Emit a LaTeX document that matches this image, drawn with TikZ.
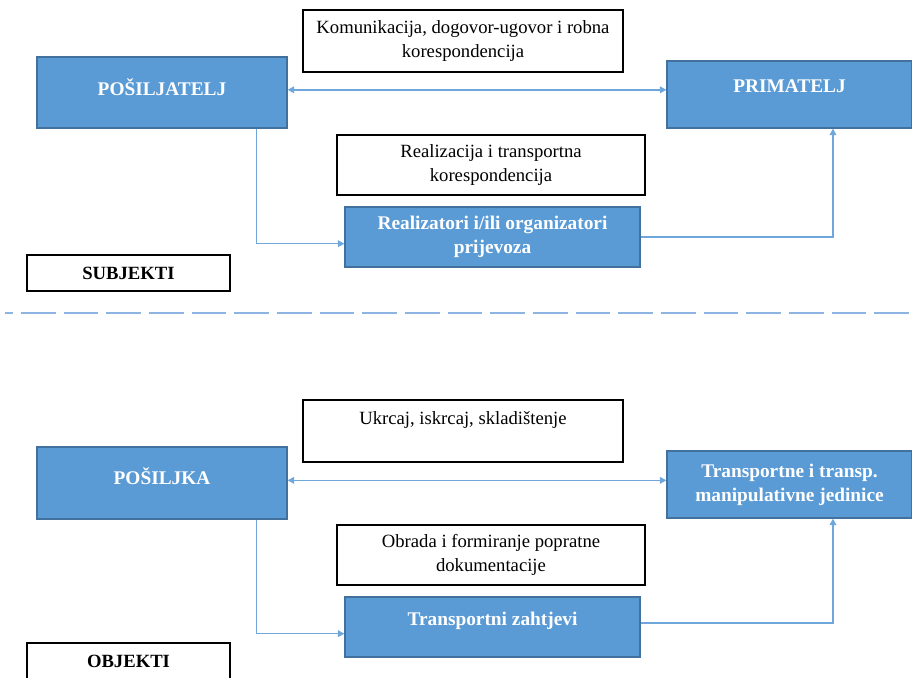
\documentclass[tikz,border=0pt]{standalone}
\usepackage{fontspec}
\setmainfont{Liberation Serif}
\usetikzlibrary{arrows.meta}
\definecolor{boxblue}{HTML}{5B9BD5}
\definecolor{boxedge}{HTML}{41719C}
\definecolor{linkblue}{HTML}{6FA6DC}
\definecolor{dashblue}{HTML}{8DB4E2}
\begin{document}
\begin{tikzpicture}[
  x=0.75pt, y=-0.75pt,
  every node/.style={align=center, inner sep=2pt, font=\fontsize{14}{17.5}\selectfont},
  bluebox/.style={rectangle, draw=boxedge, fill=boxblue, line width=0.8pt,
    text=white, font=\fontsize{14.5}{18}\selectfont\bfseries},
  whitebox/.style={rectangle, draw=black, line width=0.9pt, fill=white},
  wide/.style={minimum width=187.5pt, minimum height=#1},
  link/.style={draw=linkblue, line width=1.2pt, -{Triangle[length=5pt,width=5pt]}},
  both/.style={draw=linkblue, line width=1.2pt, {Triangle[length=5pt,width=5pt]}-{Triangle[length=5pt,width=5pt]}}
  ]
  \useasboundingbox (0,0) rectangle (912,677);

  % subjekti
  \node[bluebox, wide=53.25pt, text depth=8pt] (posiljatelj) at (162,92.5) {PO\v{S}ILJATELJ};
  \node[whitebox, minimum width=240pt, minimum height=46.5pt] (komunikacija) at (463,41)
    {Komunikacija, dogovor-ugovor i robna\\korespondencija};
  \node[bluebox, minimum width=183.75pt, minimum height=50.25pt, text depth=12pt] (primatelj) at (789.5,94.5) {PRIMATELJ};
  \node[whitebox, minimum width=231pt, minimum height=45pt] (realizacija) at (491,165)
    {Realizacija i transportna\\korespondencija};
  \node[bluebox, minimum width=221.25pt, minimum height=45pt] (realizatori) at (492.5,237)
    {Realizatori i/ili organizatori\\prijevoza};
  \node[whitebox, minimum width=152.25pt, minimum height=27pt, font=\fontsize{14}{17.5}\selectfont\bfseries] (subjekti) at (128.5,273) {SUBJEKTI};

  \draw[both] ([yshift=2pt]posiljatelj.east) -- ([yshift=2pt]posiljatelj.east -| primatelj.west);
  \draw[link] ([xshift=71pt]posiljatelj.south) |- ([yshift=-5pt]realizatori.west);
  \draw[link] (realizatori.east) -| ([xshift=32.6pt]primatelj.south);

  \draw[dashblue, line width=1.6pt, dash pattern=on 26pt off 6pt, dash phase=20pt] (5,313) -- (912,313);

  % objekti
  \node[whitebox, minimum width=240pt, minimum height=46.5pt, text depth=20pt] (ukrcaj) at (463,431)
    {Ukrcaj, iskrcaj, skladi\v{s}tenje};
  \node[bluebox, wide=54pt, text depth=10pt] (posiljka) at (162,483) {PO\v{S}ILJKA};
  \node[bluebox, minimum width=183.75pt, minimum height=50.25pt] (jedinice) at (789.5,484.5)
    {Transportne i transp.\\manipulativne jedinice};
  \node[whitebox, minimum width=231pt, minimum height=45pt] (obrada) at (491,555)
    {Obrada i formiranje popratne\\dokumentacije};
  \node[bluebox, minimum width=221.25pt, minimum height=45pt, text depth=13pt] (zahtjevi) at (492.5,627)
    {Transportni zahtjevi};
  \node[whitebox, minimum width=152.25pt, minimum height=27pt, font=\fontsize{14}{17.5}\selectfont\bfseries] (objekti) at (128.5,661) {OBJEKTI};

  \draw[both] ([yshift=2pt]posiljka.east) -- ([yshift=2pt]posiljka.east -| jedinice.west);
  \draw[link] ([xshift=71pt]posiljka.south) |- ([yshift=-5pt]zahtjevi.west);
  \draw[link] ([yshift=3pt]zahtjevi.east) -| ([xshift=32.6pt]jedinice.south);
\end{tikzpicture}
\end{document}
